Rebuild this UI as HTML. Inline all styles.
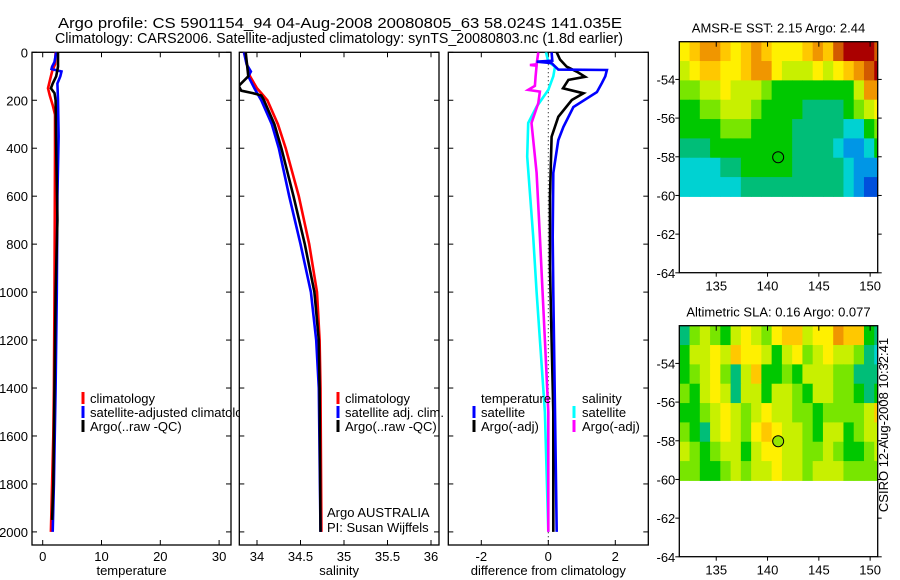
<!DOCTYPE html>
<html><head><meta charset="utf-8">
<style>
html,body{margin:0;padding:0;background:#fff;}
svg{display:block;font-family:"Liberation Sans",sans-serif;}
</style></head>
<body>
<svg id="fig" width="900" height="580" viewBox="0 0 900 580">
<text x="340" y="28" font-size="14.5" text-anchor="middle" textLength="564" lengthAdjust="spacingAndGlyphs">Argo profile: CS 5901154_94 04-Aug-2008 20080805_63 58.024S 141.035E</text>
<text x="339" y="43" font-size="14.5" text-anchor="middle" textLength="568" lengthAdjust="spacingAndGlyphs">Climatology: CARS2006. Satellite-adjusted climatology: synTS_20080803.nc (1.8d earlier)</text>
<g id="root"></g>
</svg>
<script>
// ---- data ----
const depthTicks=[0,200,400,600,800,1000,1200,1400,1600,1800,2000];
const tempTicks=[0,10,20,30];
const salTicks=[34,34.5,35,35.5,36];
const salTickLabels=["34","34.5","35","35.5","36"];
const diffTicks=[-2,0,2];
const latTicks=[-54,-56,-58,-60,-62,-64];
const lonTicks=[135,140,145,150];

const tClimDepth=[0,50,80,110,150,180,220,260,400,1000,1400,1600,1800,2000];
const tClimVal=[2.2,2.1,1.6,1.3,0.9,1.2,1.7,2.1,2.1,2.0,1.9,1.8,1.6,1.4];
const tSatDepth=[0,40,60,70,80,100,130,200,350,600,1000,1400,1800,2000];
const tSatVal=[2.3,2.0,1.6,1.5,3.2,3.0,2.5,2.6,2.7,2.5,2.4,2.2,1.9,1.7];
const tArgoDepth=[0,60,100,130,150,170,200,400,700,1000,1400,1800,1950];
const tArgoVal=[2.6,2.6,2.3,1.7,1.4,2.0,2.2,2.3,2.5,2.2,2.0,1.8,1.6];

const sClimDepth=[0,100,150,170,200,300,400,600,800,1000,1200,1400,2000];
const sClimVal=[33.85,33.92,34.0,34.05,34.12,34.24,34.33,34.48,34.6,34.69,34.72,34.73,34.74];
const sSatDepth=[0,50,80,100,150,200,300,400,600,800,1000,1200,1400,2000];
const sSatVal=[33.85,33.88,33.93,33.9,33.97,34.05,34.17,34.25,34.37,34.5,34.62,34.68,34.71,34.73];
const sArgoDepth=[0,100,140,160,170,180,200,300,400,600,800,1000,1200,1400,2000];
const sArgoVal=[33.87,33.9,33.79,33.82,33.95,34.05,34.08,34.2,34.28,34.42,34.55,34.66,34.71,34.72,34.73];

const dTSatDepth=[0,35,39,45,72,74,100,128,166,228,311,366,503,770,1000,1500,2000];
const dTSatVal=[0.1,0.12,-0.35,0.1,0.3,1.75,1.7,1.6,1.45,0.75,0.45,0.3,0.15,0.13,0.15,0.2,0.25];
const dTArgoDepth=[0,30,60,81,102,115,150,171,199,269,352,600,900,1200,1500,2000];
const dTArgoVal=[0.25,0.35,0.55,0.85,1.1,0.6,0.44,1.05,0.7,0.3,0.1,0.05,0.05,0.1,0.15,0.15];
const dSSatDepth=[0,40,60,100,157,227,295,435,769,1000,1500,2000];
const dSSatVal=[-0.07,0.0,0.2,0.15,0.0,-0.35,-0.6,-0.63,-0.45,-0.35,-0.1,0.0];
const dSArgoDepth=[0,50,53,56,100,140,157,164,212,295,503,770,1200,1500,2000];
const dSArgoVal=[-0.3,-0.35,-0.55,-0.35,-0.38,-0.4,-0.6,-0.25,-0.3,-0.5,-0.35,-0.25,-0.1,0.0,0.0];

const sstGrid=[
[7,8,9,9,8,7,8,9,8,7,7,7,8,9,8,10,11,11,11,10],
[6,7,8,8,7,7,8,9,9,7,6,6,6,7,6,7,8,9,10,11],
[5,5,6,6,7,6,6,6,5,4,4,4,4,4,4,4,4,6,9,9],
[4,4,5,5,6,6,6,5,4,4,4,4,3,3,3,3,4,5,6,7],
[4,4,4,4,5,5,5,4,4,4,4,3,3,3,3,3,2,2,4,5],
[3,3,3,4,4,4,4,4,4,4,4,3,3,3,3,2,1,1,2,4],
[2,2,2,2,3,3,4,4,4,4,4,3,3,3,3,3,2,1,1,1],
[2,2,2,2,2,2,3,3,3,3,3,3,3,3,3,3,2,1,0,0]];
const slaGrid=[
[3,5,6,5,4,6,7,6,5,7,8,8,6,7,7,9,8,8,4,3],
[4,6,6,7,6,8,7,7,6,4,6,7,5,6,7,6,6,5,3,2],
[4,5,6,7,5,3,6,8,4,4,5,4,6,6,6,5,5,3,3,3],
[5,4,6,7,6,3,6,6,4,6,6,5,4,6,6,5,5,4,3,4],
[4,4,5,6,7,6,5,6,7,6,6,5,5,4,5,5,5,5,6,8],
[5,4,3,6,7,6,5,7,8,7,6,6,5,4,6,6,4,5,6,6],
[6,5,4,5,6,6,4,6,7,7,6,6,5,5,6,5,4,4,5,6],
[5,5,4,4,5,6,5,6,6,7,6,6,5,6,6,6,5,5,5,5]];
const palette=["#0050dc","#0096e6","#00d2d2","#00be78","#00c800","#78e600","#c8f000","#fff000","#ffc800","#f09600","#d25a00","#aa0000"];
const argoLon=141.035, argoLat=-58.024;

// ---- helpers ----
const NS="http://www.w3.org/2000/svg";
const root=document.getElementById('root');
function mk(tag,attrs,parent){const e=document.createElementNS(NS,tag);for(const k in attrs)e.setAttribute(k,attrs[k]);(parent||root).appendChild(e);return e;}
const yD=d=>52.3+d*0.2398;
const PT={l:32,r:231,x:v=>42.7+v*5.88};
const PS={l:239.3,r:439,x:v=>257+(v-34)*87};
const PD={l:448.3,r:648.3,x:v=>548.3+v*33.5};
const TOP=52.3,BOT=545;

function frame(p,ticks,labels,xlabel,yLabels,name){
  const g=mk('g',{});
  
  
  const r=mk('rect',{x:p.l,y:TOP,width:p.r-p.l,height:BOT-TOP,fill:'#fff',stroke:'#000','stroke-width':1.3},g);
  
  
  ticks.forEach((t,i)=>{const x=p.x(t);
    mk('line',{x1:x,x2:x,y1:BOT,y2:BOT-5,stroke:'#000'},g);
    mk('line',{x1:x,x2:x,y1:TOP,y2:TOP+5,stroke:'#000'},g);
    const tx=mk('text',{x:x,y:561,'font-size':13,'text-anchor':'middle'},g);tx.textContent=labels[i];
    
    
  });
  depthTicks.forEach(d=>{const y=yD(d);
    mk('line',{x1:p.l,x2:p.l+5,y1:y,y2:y,stroke:'#000'},g);
    mk('line',{x1:p.r,x2:p.r-5,y1:y,y2:y,stroke:'#000'},g);
    if(yLabels){const tx=mk('text',{x:28,y:y+5,'font-size':13,'text-anchor':'end'},g);tx.textContent=d;
      
      }
  });
  const xl=mk('text',{x:(p.l+p.r)/2,y:575,'font-size':13,'text-anchor':'middle'},g);xl.textContent=xlabel;
  
  
  return g;
}
function line(p,depths,vals,color,name){
  const pts=depths.map((d,i)=>p.x(vals[i]).toFixed(1)+','+yD(d).toFixed(1)).join(' ');
  const e=mk('polyline',{points:pts,fill:'none',stroke:color,'stroke-width':2.6,'stroke-linejoin':'miter','clip-path':'url(#clip-'+name.split('-')[0]+')'});
  
  
}
function legend(x,y,color,label,textX){
  if(color){const m=mk('rect',{x:x-1.5,y:y-6,width:3,height:12,fill:color});
    
    }
  const t=mk('text',{x:textX,y:y+5,'font-size':13});t.textContent=label;
  
  
}
const defs=mk('defs',{});
[['t',PT],['s',PS],['d',PD]].forEach(([k,p])=>{const c=mk('clipPath',{id:'clip-'+k},defs);mk('rect',{x:p.l,y:TOP,width:p.r-p.l,height:BOT-TOP},c);});

// ---- panel 1 temperature ----
frame(PT,tempTicks,tempTicks.map(String),'temperature',true,'temperature-panel');
line(PT,tClimDepth,tClimVal,'#ff0000','t-climatology-line');
line(PT,tSatDepth,tSatVal,'#0000ff','t-satellite-line');
line(PT,tArgoDepth,tArgoVal,'#000000','t-argo-line');
legend(83,398,'#ff0000','climatology',90);
legend(83,412,'#0000ff','satellite-adjusted climatology',90);
legend(83,426,'#000000','Argo(..raw -QC)',90);

// ---- panel 2 salinity ----
frame(PS,salTicks,salTickLabels,'salinity',false,'salinity-panel');
line(PS,sClimDepth,sClimVal,'#ff0000','s-climatology-line');
line(PS,sSatDepth,sSatVal,'#0000ff','s-satellite-line');
line(PS,sArgoDepth,sArgoVal,'#000000','s-argo-line');
legend(338,398,'#ff0000','climatology',345);
legend(338,412,'#0000ff','satellite adj. clim.',345);
legend(338,426,'#000000','Argo(..raw -QC)',345);
legend(0,512,null,'Argo AUSTRALIA',327);
legend(0,527,null,'PI: Susan Wijffels',327);

// ---- panel 3 difference ----
frame(PD,diffTicks,diffTicks.map(String),'difference from climatology',false,'difference-panel');
const zl=mk('line',{x1:PD.x(0),x2:PD.x(0),y1:TOP,y2:BOT,stroke:'#000','stroke-dasharray':'1,3'});


line(PD,dSSatDepth,dSSatVal,'#00ffff','d-sal-satellite-line');
line(PD,dSArgoDepth,dSArgoVal,'#ff00ff','d-sal-argo-line');
line(PD,dTArgoDepth,dTArgoVal,'#000000','d-temp-argo-line');
line(PD,dTSatDepth,dTSatVal,'#0000ff','d-temp-satellite-line');
legend(0,398,null,'temperature',481);
legend(474,412,'#0000ff','satellite',481);
legend(474,426,'#000000','Argo(-adj)',481);
legend(0,398,null,'salinity',582);
legend(574,412,'#00ffff','satellite',582);
legend(574,426,'#ff00ff','Argo(-adj)',582);

// ---- maps ----
const ML=679.3,MR=877.7,MH=231,lon0=131.4,lat0=-52.05;
const mx=lon=>ML+(lon-lon0)*10.26;
function drawMap(top,grid,title,name,dotFill){
  const g=mk('g',{});
  
  
  const my=lat=>top+(lat0-lat)*19.34;
  const cp=mk('clipPath',{id:'clip-'+name},defs);mk('rect',{x:ML,y:top,width:MR-ML,height:MH},cp);
  const cells=mk('g',{'clip-path':'url(#clip-'+name+')'},g);
  grid.forEach((row,r)=>row.forEach((v,c)=>{
    const x1=mx(lon0+c),y1=my(lat0-r);
    const cell=mk('rect',{x:x1,y:y1,width:mx(lon0+c+1)-x1+0.5,height:my(lat0-r-1)-y1+0.5,fill:palette[v]},cells);
    
    
  }));
  const fr=mk('rect',{x:ML,y:top,width:MR-ML,height:MH,fill:'none',stroke:'#000','stroke-width':1.3},g);
  
  
  lonTicks.forEach(l=>{const x=mx(l);
    mk('line',{x1:x,x2:x,y1:top,y2:top+5,stroke:'#000'},g);
    mk('line',{x1:x,x2:x,y1:top+MH,y2:top+MH+4,stroke:'#000'},g);
    const t=mk('text',{x:x,y:top+MH+18,'font-size':13,'text-anchor':'middle'},g);t.textContent=l;
    
    });
  latTicks.forEach(l=>{const y=my(l);
    mk('line',{x1:ML-4,x2:ML,y1:y,y2:y,stroke:'#000'},g);
    mk('line',{x1:MR,x2:MR+4,y1:y,y2:y,stroke:'#000'},g);
    const t=mk('text',{x:ML-4,y:y+5,'font-size':13,'text-anchor':'end'},g);t.textContent=l;
    
    });
  const tt=mk('text',{x:(ML+MR)/2,y:top-9,'font-size':13,'text-anchor':'middle'},g);tt.textContent=title;
  
  
  const dot=mk('circle',{cx:mx(argoLon),cy:my(argoLat),r:5.5,fill:dotFill,stroke:'#000','stroke-width':1},g);
  
  
}
drawMap(41.7,sstGrid,'AMSR-E SST: 2.15 Argo: 2.44','sst-map','none');
drawMap(325.7,slaGrid,'Altimetric SLA: 0.16 Argo: 0.077','sla-map','#96e600');
const cs=mk('text',{x:0,y:0,'font-size':13,'text-anchor':'middle',transform:'translate(888,425) rotate(-90)'});
cs.textContent='CSIRO 12-Aug-2008 10:32:41';


</script>
</body></html>
